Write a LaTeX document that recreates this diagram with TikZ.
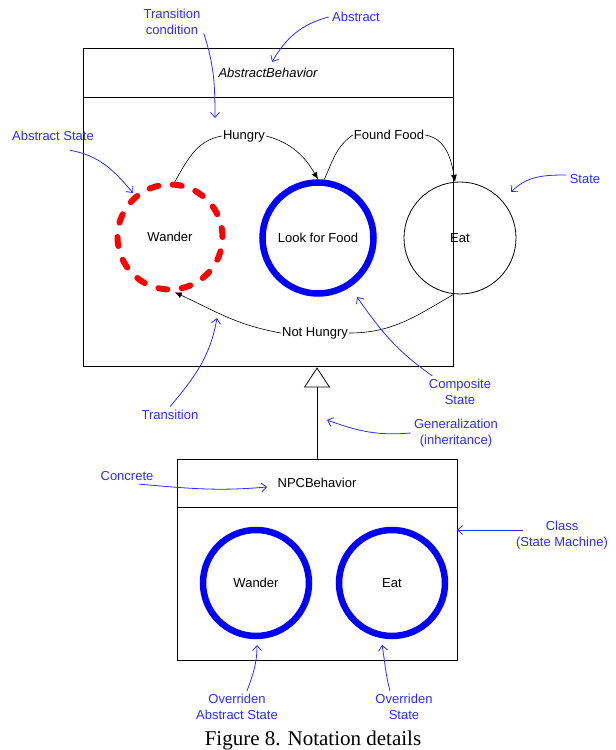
\documentclass[tikz,border=0pt]{standalone}
\usepackage{fontspec}
\setmainfont{Liberation Sans}
\newfontfamily\captionserif{Liberation Serif}
\usetikzlibrary{arrows.meta}
\definecolor{noteblue}{RGB}{45,45,245}

\begin{document}
\begin{tikzpicture}[x=1pt,y=1pt,>=latex,
    every node/.style={font=\fontsize{13}{15.5}\selectfont},
    classbox/.style={draw, line width=0.9pt, inner sep=0pt},
    state/.style={circle, draw, line width=0.8pt, inner sep=0pt, minimum size=112pt},
    abstractstate/.style={state, draw=red, line width=6pt, line cap=round,
        dash pattern=on 9pt off 14.56pt, minimum size=105pt},
    compositestate/.style={state, draw=blue, line width=6.5pt, minimum size=111pt},
    trans/.style={-{Latex[length=7pt,width=6pt]}, line width=0.6pt},
    translabel/.style={inner sep=1pt},
    note/.style={text=noteblue, align=center},
    notearrow/.style={-{Straight Barb[length=5pt,width=9pt]}, draw=noteblue, line width=0.8pt}]
        \useasboundingbox (0,0) rectangle (616,750);

        % draw the abstract class
        \node[classbox, minimum width=370pt, minimum height=49pt] (abshead) at (268,677.5) {\itshape AbstractBehavior};
        \node[classbox, minimum width=370pt, minimum height=269pt, anchor=north] (absbody) at (abshead.south) {};

        % draw the states
        \node[abstractstate] (wander) at (170,513) {Wander};
        \node[compositestate] (lookfood) at (318,512) {Look for Food};
        \node[state] (eat) at (460,512) {Eat};

        % draw the transitions, the labels sit in a gap of the curve
        \node[translabel] (hungry) at (244,614) {Hungry};
        \node[translabel] (foundfood) at (389,615) {Found Food};
        \node[translabel] (nothungry) at (315,417) {Not Hungry};
        \draw[line width=0.6pt] (wander.85) to[out=60,in=190] (hungry.west);
        \draw[trans] (hungry.east) to[out=-15,in=120] (lookfood.north);
        \draw[line width=0.6pt] (lookfood.84) to[out=65,in=215] (foundfood.west);
        \draw[trans] (foundfood.east) to[out=-10,in=100] (eat.95);
        \draw[line width=0.6pt] (eat.264) to[out=210,in=0] (nothungry.east);
        \draw[trans] (nothungry.west) to[out=170,in=-25] (wander.275);

        % draw the concrete class
        \node[classbox, minimum width=280pt, minimum height=48pt] (npchead) at (317,267) {NPCBehavior};
        \node[classbox, minimum width=280pt, minimum height=153pt, anchor=north] (npcbody) at (npchead.south) {};
        \node[compositestate, minimum size=106pt] (npcwander) at (256,167) {Wander};
        \node[compositestate, minimum size=106pt] (npceat) at (392,167) {Eat};

        % generalization
        \draw[-{Triangle[open,length=20pt,width=26pt]}, line width=0.8pt] (npchead.north) -- (npchead.north |- absbody.south);

        % the notes in blue
        \node[note] (condnote) at (172,728) {Transition\\condition};
        \node[note] (absnote) at (356,733) {Abstract};
        \node[note] (asnote) at (53,614) {Abstract State};
        \node[note] (statenote) at (585,571) {State};
        \node[note] (transnote) at (170,335) {Transition};
        \node[note] (compnote) at (460,358) {Composite\\State};
        \node[note] (gennote) at (456,317) {Generalization\\(inheritance)};
        \node[note] (concnote) at (127,274) {Concrete};
        \node[note] (classnote) at (562,215) {Class\\(State Machine)};
        \node[note] (oasnote) at (237,43) {Overriden\\Abstract State};
        \node[note] (osnote) at (404,43) {Overriden\\State};

        \coordinate (condtip) at (215,632);
        \coordinate (abstip) at (272,688);
        \coordinate (astip) at (133,557);
        \coordinate (statetip) at (511,558);
        \coordinate (transtip) at (217,432);
        \coordinate (comptip) at (357,453);
        \coordinate (gentip) at (327,330);
        \coordinate (conctip) at (267,263);
        \coordinate (classtip) at (457,220);
        \coordinate (oastip) at (257,105);
        \coordinate (ostip) at (382,105);

        \draw[notearrow] (condnote.-20) to[out=-72,in=90] (condtip);
        \draw[notearrow] (absnote.west) to[out=195,in=60] (abstip);
        \draw[notearrow] ([xshift=17pt,yshift=-6pt]asnote.south) to[out=-10,in=130] (astip);
        \draw[notearrow] ([yshift=4pt]statenote.west) to[out=180,in=45] (statetip);
        \draw[notearrow] (transnote.north) to[out=50,in=-100] (transtip);
        \draw[notearrow] ([xshift=7pt]compnote.north west) to[out=145,in=-55] (comptip);
        \draw[notearrow] (gennote.west) to[out=185,in=-20] (gentip);
        \draw[notearrow] ([xshift=12pt]concnote.south) to[out=-5,in=185] (conctip);
        \draw[notearrow] ([shift={(10pt,5pt)}]classnote.west) -- (classtip);
        \draw[notearrow] ([xshift=10pt]oasnote.north) to[out=70,in=-90] (oastip);
        \draw[notearrow] ([xshift=-14pt]osnote.north) to[out=105,in=-80] (ostip);

        % caption
        \node[font=\captionserif\fontsize{21}{25}\selectfont] (caption) at (313,10) {Figure 8. Notation details};
\end{tikzpicture}
\end{document}
